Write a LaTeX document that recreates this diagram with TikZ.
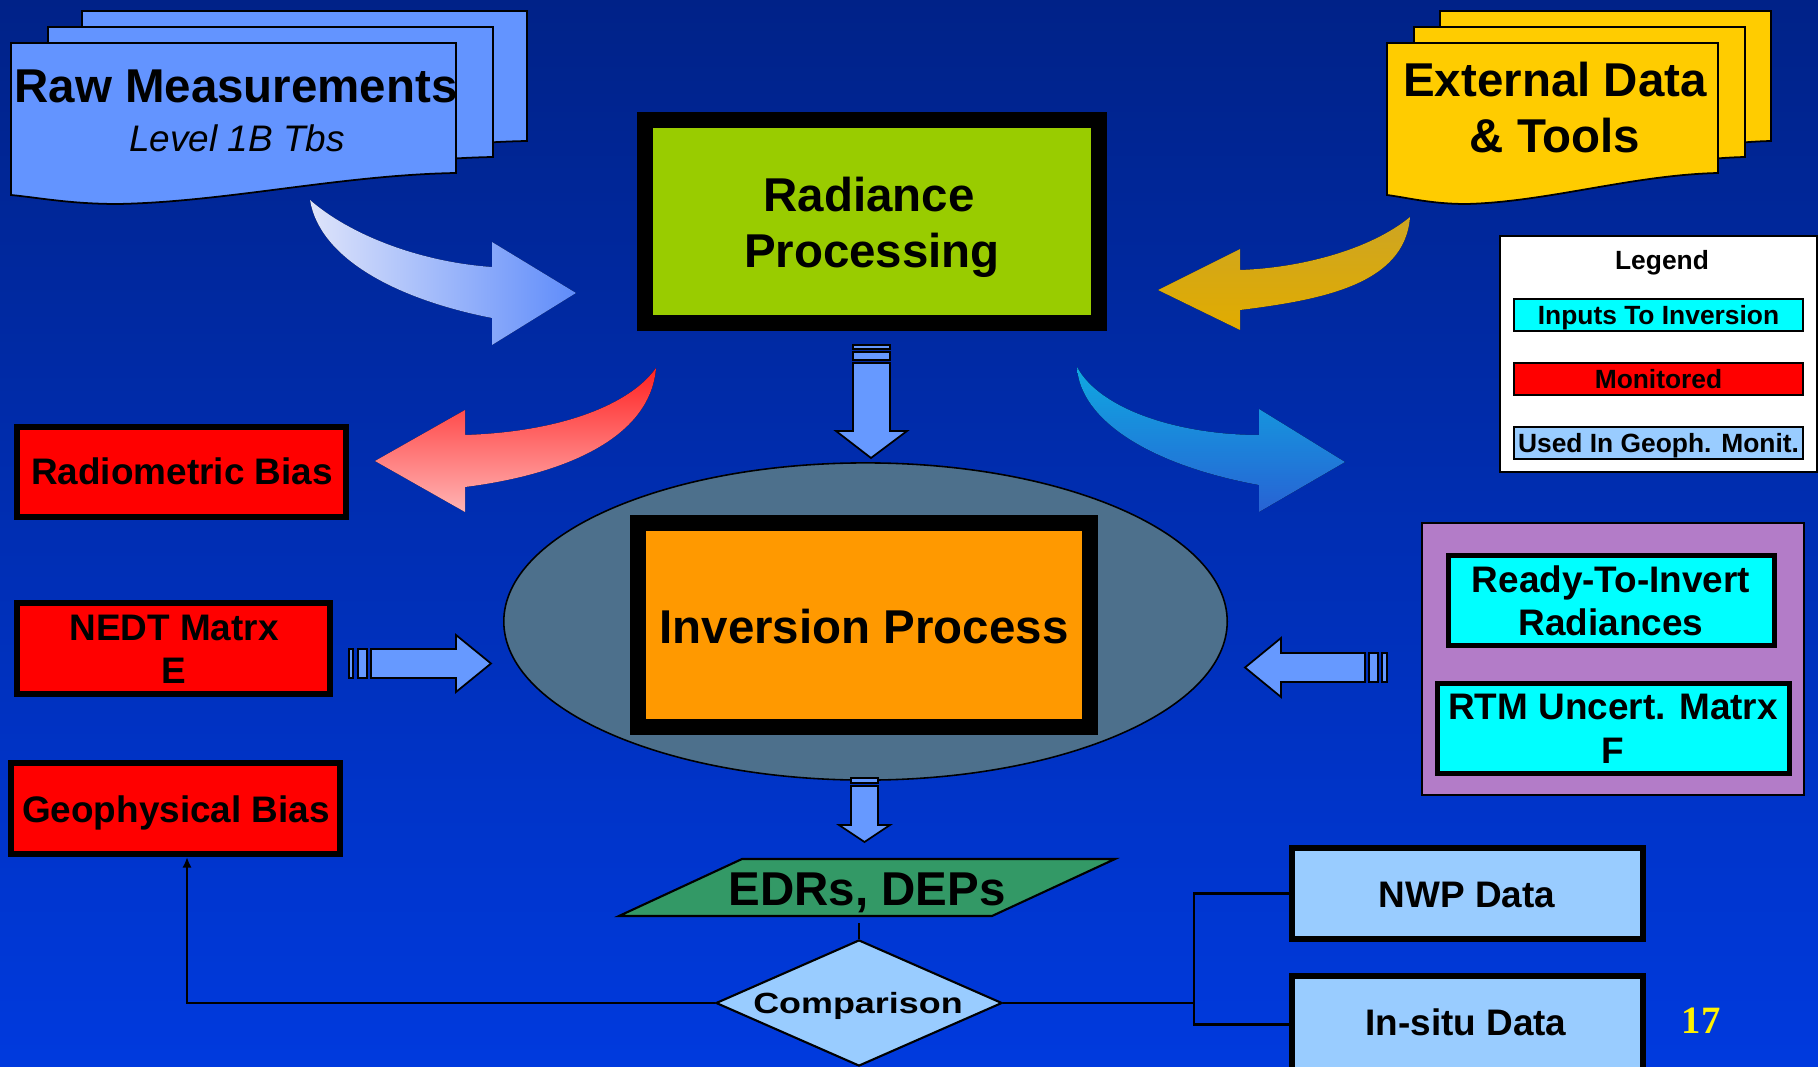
\documentclass[tikz,border=0pt]{standalone}
\usepackage{fontspec}
\setmainfont{Liberation Sans}
\newfontfamily\numfont{Liberation Serif}
\usetikzlibrary{shapes.geometric,arrows.meta}
\definecolor{bgtop}{RGB}{0,34,136}
\definecolor{bgbot}{RGB}{0,58,222}
\definecolor{rawblue}{RGB}{99,148,255}
\definecolor{extgold}{RGB}{255,204,0}
\definecolor{rpgreen}{RGB}{153,204,0}
\definecolor{invorange}{RGB}{255,153,0}
\definecolor{ellgray}{RGB}{77,112,140}
\definecolor{monred}{RGB}{255,0,0}
\definecolor{incyan}{RGB}{0,255,255}
\definecolor{geoblue}{RGB}{153,204,255}
\definecolor{boxpurple}{RGB}{179,124,200}
\definecolor{edrsgreen}{RGB}{51,153,102}
\definecolor{arrowblue}{RGB}{102,153,255}
\tikzset{
  txt/.style={anchor=base, inner sep=0pt},
  bigt/.style={txt, font=\fontsize{13.5}{16}\selectfont\bfseries},
  medt/.style={txt, font=\fontsize{10.5}{12}\selectfont\bfseries},
  smallt/.style={txt, font=\fontsize{7.5}{9}\selectfont\bfseries},
  thickbox/.style={draw=black, line width=4.55pt, inner sep=0pt},
  midbox/.style={draw=black, line width=1.7pt, inner sep=0pt},
  thinbox/.style={draw=black, line width=0.6pt, inner sep=0pt},
  barrow/.style={draw=black, line width=0.5pt, fill=arrowblue},
  conn/.style={draw=black, line width=0.7pt},
  docsheet/.pic={\path[pic actions] (0,0) -- (445,0) -- (445,130)
      .. controls (330,132) and (215,159) .. (107,161)
      .. controls (60,161) and (30,155) .. (0,152) -- cycle;},
}
\begin{document}
\begin{tikzpicture}[x=0.01cm,y=-0.01cm]
\useasboundingbox (0,0) rectangle (1818,1067);
% background
\fill[top color=bgtop, bottom color=bgbot] (0,0) rectangle (1818,1067);

% document stacks
\pic[draw=black, line width=0.5pt, fill=rawblue] at (82,11) {docsheet};
\pic[draw=black, line width=0.5pt, fill=rawblue] at (48,27) {docsheet};
\pic[draw=black, line width=0.5pt, fill=rawblue] at (11,43) {docsheet};
\coordinate (raw) at (236,110);
\pic[draw=black, line width=0.5pt, fill=extgold, xscale=0.7438] at (1440,11) {docsheet};
\pic[draw=black, line width=0.5pt, fill=extgold, xscale=0.7438] at (1414,27) {docsheet};
\pic[draw=black, line width=0.5pt, fill=extgold, xscale=0.7438] at (1387,43) {docsheet};
\coordinate (ext) at (1555,110);

% curved arrows
\fill[left color={rgb,255:red,222;green,228;blue,250}, right color={rgb,255:red,95;green,140;blue,250}]
  (310,200) .. controls (350,235) and (420,262) .. (492,267) -- (492,242) -- (576,293)
  -- (492,345) -- (492,318) .. controls (400,300) and (320,260) .. (310,200) -- cycle;
\fill[top color={rgb,255:red,255;green,35;blue,35}, bottom color={rgb,255:red,255;green,180;blue,180}]
  (656,368) .. controls (630,405) and (560,432) .. (465,435) -- (465,410) -- (375,461)
  -- (465,512) -- (465,487) .. controls (560,475) and (650,440) .. (656,368) -- cycle;
\fill[top color={rgb,255:red,205;green,165;blue,35}, bottom color={rgb,255:red,225;green,172;blue,0}]
  (1410,217) .. controls (1370,250) and (1300,268) .. (1240,270) -- (1240,249) -- (1158,290)
  -- (1240,330) -- (1240,310) .. controls (1320,300) and (1405,285) .. (1410,217) -- cycle;
\fill[top color={rgb,255:red,15;green,168;blue,225}, bottom color={rgb,255:red,40;green,98;blue,212}]
  (1077,367) .. controls (1100,410) and (1180,435) .. (1259,435) -- (1259,409) -- (1345,462)
  -- (1259,512) -- (1259,485) .. controls (1150,465) and (1080,420) .. (1077,367) -- cycle;

% main boxes
\node[thickbox, fill=rpgreen, minimum width=4.54cm, minimum height=2.03cm] (rp) at (872,221.5) {};
\node[ellipse, draw=black, line width=0.45pt, fill=ellgray, minimum width=7.23cm, minimum height=3.17cm, inner sep=0pt] (ell) at (865.5,621.5) {};
\node[thickbox, fill=invorange, minimum width=4.52cm, minimum height=2.04cm] (inv) at (864,625) {};

% red boxes
\node[midbox, fill=monred, minimum width=3.29cm, minimum height=0.90cm] (rb) at (181.5,472) {};
\node[midbox, fill=monred, minimum width=3.13cm, minimum height=0.91cm] (nedt) at (173.5,648.5) {};
\node[midbox, fill=monred, minimum width=3.29cm, minimum height=0.91cm] (geo) at (175.5,808.5) {};

% purple group
\node[thinbox, fill=boxpurple, minimum width=3.82cm, minimum height=2.72cm] (grp) at (1613,659) {};
\node[draw=black, line width=1.45pt, inner sep=0pt, fill=incyan, minimum width=3.26cm, minimum height=0.90cm] (rti) at (1611.5,600.5) {};
\node[draw=black, line width=1.45pt, inner sep=0pt, fill=incyan, minimum width=3.52cm, minimum height=0.90cm] (rtm) at (1613.5,728.5) {};

% legend
\node[draw=black, line width=0.5pt, inner sep=0pt, fill=white, minimum width=3.17cm, minimum height=2.36cm] (legend) at (1658.5,354) {};
\node[thinbox, fill=incyan, minimum width=2.89cm, minimum height=0.32cm] (leg1) at (1658.5,315) {};
\node[thinbox, fill=monred, minimum width=2.89cm, minimum height=0.32cm] (leg2) at (1658.5,379) {};
\node[thinbox, fill=geoblue, minimum width=2.89cm, minimum height=0.32cm] (leg3) at (1658.5,443) {};

% lower right data boxes
\node[midbox, fill=geoblue, minimum width=3.51cm, minimum height=0.91cm] (nwp) at (1467.5,893.5) {};
\node[midbox, fill=geoblue, minimum width=3.51cm, minimum height=0.97cm] (insitu) at (1467.5,1024.5) {};

% EDRs parallelogram and comparison diamond
\draw[fill=edrsgreen, line width=0.6pt] (742,859) -- (1115,859) -- (992,916) -- (619,916) -- cycle;
\coordinate (edrs) at (867,887);
\coordinate (edrsbot) at (859,923);
\node[diamond, draw=black, line width=0.6pt, fill=geoblue, minimum width=2.86cm, minimum height=1.26cm, inner sep=0pt] (cmp) at (859,1003) {};

% block arrows
\draw[barrow] (853,345) rectangle (890,349);
\draw[barrow] (853,352) rectangle (890,360);
\draw[barrow] (853,363) -- (853,431) -- (836,431) -- (871,458) -- (907,431) -- (890,431) -- (890,363) -- cycle;

\draw[barrow] (851,778) rectangle (878,783);
\draw[barrow] (851,786) -- (851,825) -- (839,825) -- (864.5,842) -- (890,825) -- (878,825) -- (878,786) -- cycle;

\draw[barrow] (349,649) rectangle (353,678);
\draw[barrow] (358,649) rectangle (367,678);
\draw[barrow] (371,649) -- (456,649) -- (456,635) -- (491,663.5) -- (456,692) -- (456,678) -- (371,678) -- cycle;

\draw[barrow] (1382,653) rectangle (1387,682);
\draw[barrow] (1369,653) rectangle (1378,682);
\draw[barrow] (1365,653) -- (1281,653) -- (1281,638) -- (1245,667.5) -- (1281,697) -- (1281,682) -- (1365,682) -- cycle;

% connectors
\coordinate (bj) at (1194,1003);
\draw[conn] (edrsbot) -- (cmp.north);
\draw[conn, -{Latex[length=3pt,width=2.6pt]}] (cmp.west) -| ([xshift=0.115cm]geo.south);
\draw[conn] (cmp.east) -- (bj);
\draw[conn] (nwp.west) -| (bj) |- (insitu.west);

% texts
\node[bigt] (t-raw) at (236,103) {Raw Measurements};
\node[txt, font=\fontsize{10.5}{12}\selectfont\itshape] (t-lvl) at (237,152) {Level 1B Tbs};
\node[bigt] (t-ext1) at (1555,97) {External Data};
\node[bigt] (t-ext2) at (1555,153) {\& Tools};
\node[bigt] (t-rp1) at (869,212) {Radiance};
\node[bigt] (t-rp2) at (872,268) {Processing};
\node[bigt] (t-inv) at (864,643) {Inversion Process};
\node[bigt] (t-edrs) at (867,905) {EDRs, DEPs};
\node[medt] (t-rb) at (182,485) {Radiometric Bias};
\node[medt] (t-nedt1) at (174,640) {NEDT Matrx};
\node[medt] (t-nedt2) at (174,683) {E};
\node[medt] (t-geo) at (176,822) {Geophysical Bias};
\node[medt] (t-rti1) at (1611,592) {Ready-To-Invert};
\node[medt] (t-rti2) at (1611,635) {Radiances};
\node[medt] (t-rtm1) at (1613,719) {RTM Uncert. Matrx};
\node[medt] (t-rtm2) at (1613,763) {F};
\node[medt] (t-nwp) at (1467,907) {NWP Data};
\node[medt] (t-ins) at (1466,1035) {In-situ Data};
\node[txt] (t-cmp) at (858,1013) {\scalebox{1.23}[1]{\fontsize{8.3}{10}\selectfont\bfseries Comparison}};
\node[smallt] (t-leg) at (1662,270) {Legend};
\node[smallt] (t-leg1) at (1658.5,325) {Inputs To Inversion};
\node[smallt] (t-leg2) at (1658.5,389) {Monitored};
\node[smallt] (t-leg3) at (1658.5,453) {Used In Geoph. Monit.};
\node[txt, text=yellow, font=\numfont\fontsize{11}{13}\selectfont\bfseries] (t-page) at (1701,1033) {17};
\end{tikzpicture}
\end{document}
